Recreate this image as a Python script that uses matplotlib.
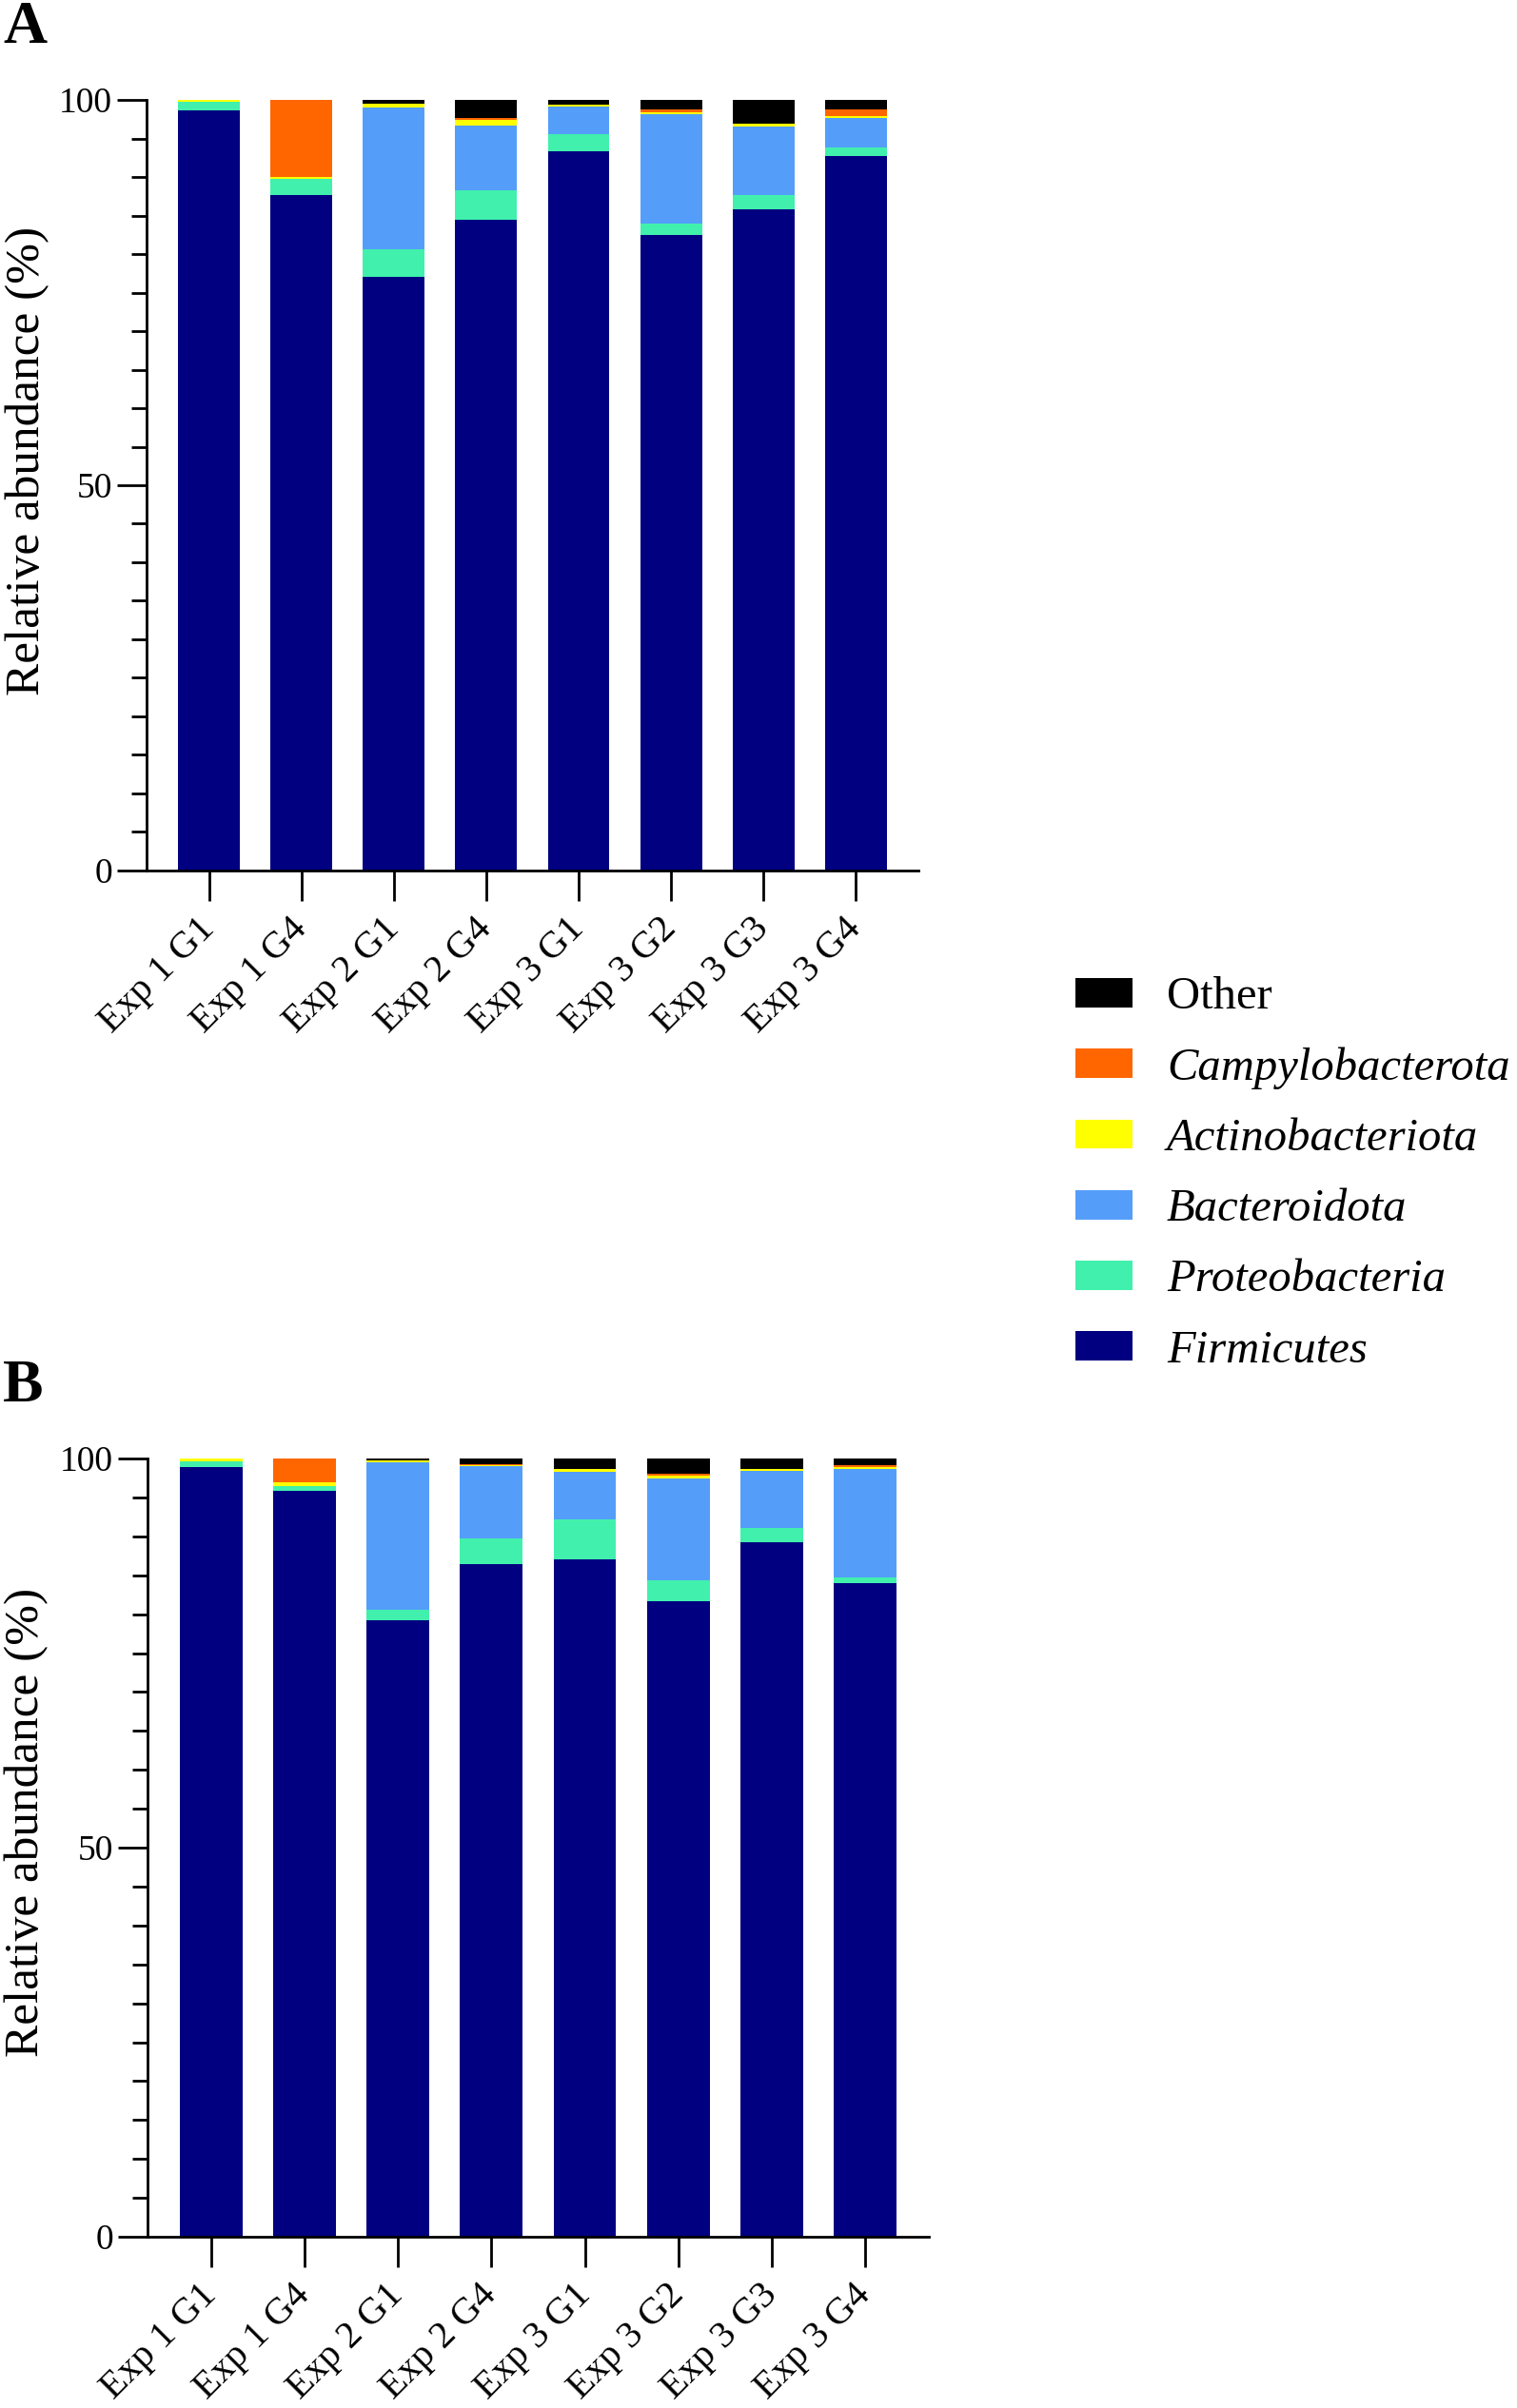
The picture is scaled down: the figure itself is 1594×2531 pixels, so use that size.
import matplotlib
matplotlib.use("Agg")
import matplotlib.pyplot as plt
from matplotlib.patches import Patch
from matplotlib.ticker import MultipleLocator
import numpy as np

plt.rcParams['font.family'] = ['Liberation Serif', 'DejaVu Serif']

samples = ["Exp 1 G1", "Exp 1 G4", "Exp 2 G1", "Exp 2 G4",
           "Exp 3 G1", "Exp 3 G2", "Exp 3 G3", "Exp 3 G4"]

# stacking order, bottom to top
phyla = ["Firmicutes", "Proteobacteria", "Bacteroidota",
         "Actinobacteriota", "Campylobacterota", "Other"]
colors = ["#000080", "#41F0AC", "#549EFA", "#FFFF00", "#FF6600", "#000000"]

# panel A
firm_a = [98.6, 87.6, 77.1, 84.5, 93.3, 82.5, 85.8, 92.7]
proteo_a = [1.1, 2.1, 3.5, 3.8, 2.3, 1.4, 1.8, 1.1]
bact_a = [0.0, 0.0, 18.4, 8.4, 3.6, 14.2, 9.0, 3.8]
actino_a = [0.3, 0.3, 0.5, 0.7, 0.2, 0.3, 0.3, 0.3]
campy_a = [0.0, 10.0, 0.0, 0.3, 0.0, 0.4, 0.0, 0.9]
other_a = [0.0, 0.0, 0.5, 2.3, 0.6, 1.2, 3.1, 1.2]

# panel B
firm_b = [98.9, 95.8, 79.2, 86.4, 87.1, 81.7, 89.3, 84.0]
proteo_b = [0.7, 0.7, 1.4, 3.3, 5.1, 2.6, 1.8, 0.7]
bact_b = [0.0, 0.0, 18.9, 9.3, 6.1, 13.1, 7.3, 13.9]
actino_b = [0.4, 0.5, 0.2, 0.2, 0.3, 0.4, 0.3, 0.3]
campy_b = [0.0, 3.0, 0.0, 0.1, 0.0, 0.3, 0.0, 0.3]
other_b = [0.0, 0.0, 0.3, 0.7, 1.4, 1.9, 1.3, 0.8]


def draw_panel(ax, series):
    x = np.arange(len(samples))
    bottom = np.zeros(len(samples))
    for vals, col in zip(series, colors):
        ax.bar(x, vals, width=0.67, bottom=bottom, color=col, linewidth=0)
        bottom = bottom + np.array(vals)
    ax.set_xlim(-0.68, 7.68)
    ax.set_ylim(0, 100)
    ax.spines['top'].set_visible(False)
    ax.spines['right'].set_visible(False)
    ax.spines['left'].set_linewidth(2)
    ax.spines['bottom'].set_linewidth(2)
    ax.set_yticks([0, 50, 100])
    ax.yaxis.set_minor_locator(MultipleLocator(5))
    ax.tick_params(axis='y', which='major', length=22, width=2, pad=4, labelsize=27)
    ax.tick_params(axis='y', which='minor', length=11.5, width=2)
    ax.set_xticks(x)
    ax.set_xticklabels(samples, rotation=45, ha='right', va='center',
                       rotation_mode='anchor', fontsize=29)
    ax.tick_params(axis='x', length=23, width=2, pad=17)
    ax.set_ylabel("Relative abundance (%)", fontsize=37)
    ax.yaxis.set_label_coords(-0.126, 0.532)


fig = plt.figure(figsize=(15.94, 25.31), dpi=100)
ax_a = fig.add_axes([0.0966, 0.6385, 0.5088, 0.3200])
ax_b = fig.add_axes([0.0972, 0.0711, 0.5151, 0.3232])

draw_panel(ax_a, [firm_a, proteo_a, bact_a, actino_a, campy_a, other_a])
draw_panel(ax_b, [firm_b, proteo_b, bact_b, actino_b, campy_b, other_b])

fig.text(0.002, 0.9995, "A", fontsize=46, fontweight='bold', ha='left', va='top')
fig.text(0.002, 0.4355, "B", fontsize=46, fontweight='bold', ha='left', va='top')

handles = [Patch(facecolor=c) for c in colors[::-1]]
leg = fig.legend(handles, phyla[::-1], loc='upper left',
                 bbox_to_anchor=(0.709, 0.5945), frameon=False, fontsize=35,
                 handlelength=1.23, handleheight=0.6, handletextpad=0.74,
                 labelspacing=0.62, borderpad=0, borderaxespad=0)
for t in leg.get_texts():
    if t.get_text() != "Other":
        t.set_fontstyle('italic')

fig.savefig("out.png", dpi=100)
